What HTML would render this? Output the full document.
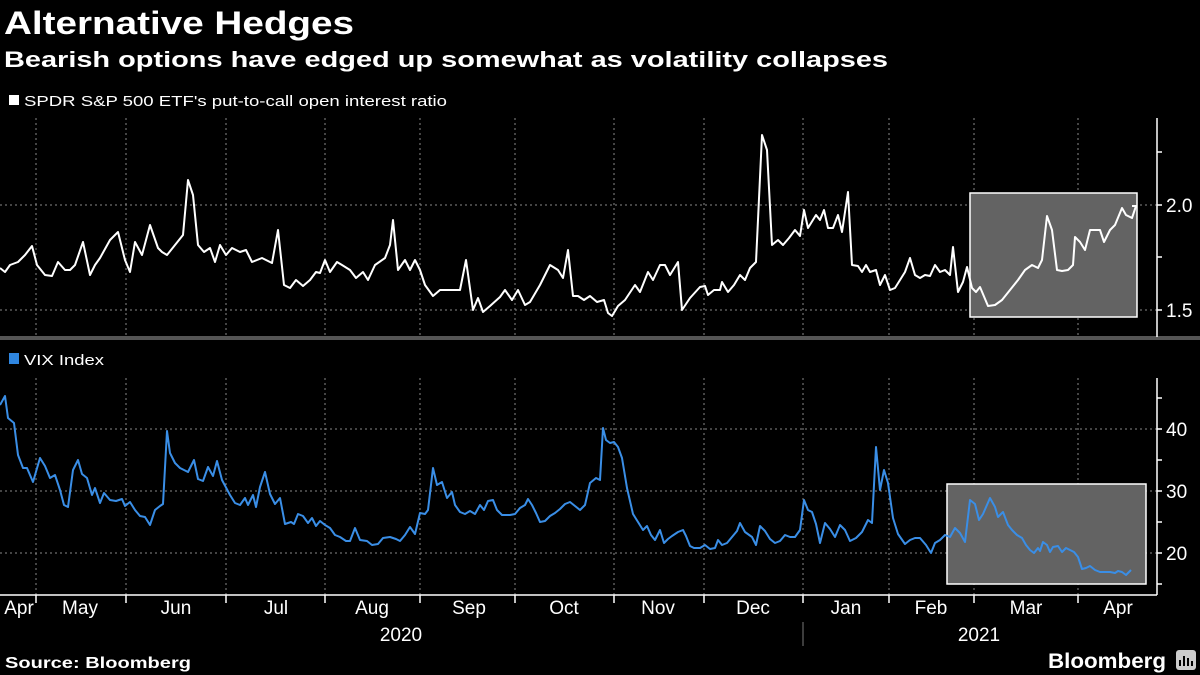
<!DOCTYPE html>
<html><head><meta charset="utf-8"><style>
html,body{margin:0;padding:0;background:#000;width:1200px;height:675px;overflow:hidden}
svg{display:block}
text{font-family:"Liberation Sans",sans-serif;fill:#fff}
</style></head><body>
<svg width="1200" height="675" viewBox="0 0 1200 675" xmlns="http://www.w3.org/2000/svg">
<text x="4" y="34" font-size="32" font-weight="bold" textLength="350" lengthAdjust="spacingAndGlyphs">Alternative Hedges</text>
<text x="4" y="67" font-size="22" font-weight="bold" textLength="884" lengthAdjust="spacingAndGlyphs">Bearish options have edged up somewhat as volatility collapses</text>
<rect x="9" y="95" width="10" height="10" fill="#fff"/>
<text x="24" y="106" font-size="15" textLength="423" lengthAdjust="spacingAndGlyphs">SPDR S&amp;P 500 ETF's put-to-call open interest ratio</text>
<rect x="9" y="353" width="10" height="11" fill="#2f86e0"/>
<text x="24" y="365" font-size="15" textLength="80" lengthAdjust="spacingAndGlyphs">VIX Index</text>
<g stroke="#888" stroke-width="1" stroke-dasharray="2,3" fill="none">
<path d="M36 118V337M126 118V337M226 118V337M325 118V337M420 118V337M515 118V337M614 118V337M704 118V337M803 118V337M889 118V337M974 118V337M1078 118V337"/>
<path d="M36 378V595M126 378V595M226 378V595M325 378V595M420 378V595M515 378V595M614 378V595M704 378V595M803 378V595M889 378V595M974 378V595M1078 378V595"/>
<path d="M0 205H1157M0 310H1157M0 429H1157M0 491H1157M0 553H1157"/>
</g>
<rect x="0" y="336" width="1200" height="4" fill="#555"/>
<rect x="970" y="193" width="167" height="124" fill="#636363" stroke="#fff" stroke-width="1.5"/>
<rect x="947" y="484" width="199" height="100" fill="#636363" stroke="#fff" stroke-width="1.5"/>
<g stroke="#fff" stroke-width="1.5" fill="none">
<path d="M1157 118V337M1157 378V595M0 595H1157"/>
<path d="M1157 152h5M1157 205h5M1157 257h5M1157 310h5M1157 398h5M1157 429h5M1157 460h5M1157 491h5M1157 522h5M1157 553h5M1157 584h5"/>
<path d="M36 595v8M126 595v8M226 595v8M325 595v8M420 595v8M515 595v8M614 595v8M704 595v8M803 595v8M889 595v8M974 595v8M1078 595v8"/>
</g>
<path d="M803 622V646" stroke="#777" stroke-width="1"/>
<g font-size="19">
<text x="1166" y="212">2.0</text><text x="1166" y="317">1.5</text>
<text x="1166" y="436">40</text><text x="1166" y="498">30</text><text x="1166" y="560">20</text>
</g>
<g font-size="19" text-anchor="middle">
<text x="19" y="614">Apr</text><text x="80" y="614">May</text><text x="176" y="614">Jun</text><text x="276" y="614">Jul</text><text x="372" y="614">Aug</text><text x="469" y="614">Sep</text><text x="564" y="614">Oct</text><text x="658" y="614">Nov</text><text x="753" y="614">Dec</text><text x="846" y="614">Jan</text><text x="931" y="614">Feb</text><text x="1026" y="614">Mar</text><text x="1118" y="614">Apr</text>
<text x="401" y="641">2020</text><text x="979" y="641">2021</text>
</g>
<text x="5" y="668" font-size="16" font-weight="bold" textLength="186" lengthAdjust="spacingAndGlyphs">Source: Bloomberg</text>
<text x="1048" y="668" font-size="21" font-weight="bold" textLength="118" lengthAdjust="spacingAndGlyphs">Bloomberg</text>
<rect x="1176" y="650" width="20" height="20" rx="3" fill="#ccc"/>
<path d="M1180 666V660M1184 666V656M1188 666V658M1192 666V661" stroke="#000" stroke-width="2"/>
<polyline fill="none" stroke="#fff" stroke-width="2" stroke-linejoin="round" points="0,268 5,272 10,265 18,262 25,255 32,246 37,265 45,275 52,276 58,262 65,270 70,270 75,265 83,242 90,275 95,265 100,258 110,240 118,232 125,260 130,272 135,242 142,255 150,225 158,248 162,252 167,255 175,245 183,235 188,180 193,195 198,245 204,252 210,248 215,262 220,245 226,255 232,248 240,252 246,250 252,262 262,258 272,263 278,230 284,285 290,288 296,280 303,286 310,280 316,272 320,273 325,260 330,272 337,262 342,265 350,270 356,278 363,272 368,280 375,265 385,258 390,245 393,220 398,270 405,260 410,270 415,260 420,270 425,285 433,296 440,290 450,290 460,290 466,260 473,310 478,298 483,312 490,306 500,297 505,290 512,300 518,290 525,305 530,302 540,285 550,265 558,270 563,278 568,250 573,296 578,296 584,300 590,296 597,302 604,300 608,313 612,316 618,306 625,300 635,285 640,292 648,272 653,280 660,265 665,265 670,275 678,262 682,310 690,298 700,287 705,286 708,295 714,290 720,290 722,282 728,292 734,285 740,275 745,280 750,268 756,262 762,135 767,150 772,245 778,240 783,245 789,238 795,230 800,236 804,210 808,228 816,215 820,220 824,210 828,228 833,228 838,215 842,232 848,192 852,265 858,266 862,272 866,265 870,272 876,270 880,285 885,275 890,290 895,288 900,280 905,272 910,258 915,275 920,278 925,275 930,276 935,265 940,272 945,270 950,275 953,247 958,292 963,282 967,267 972,288 976,292 980,287 988,306 995,305 1002,300 1010,290 1018,280 1025,270 1032,265 1038,268 1042,260 1047,216 1052,230 1057,270 1062,271 1068,270 1073,265 1075,237 1080,242 1085,250 1090,230 1096,230 1100,230 1104,242 1110,230 1115,225 1122,208 1126,215 1132,218 1136,206 1132,206"/>
<polyline fill="none" stroke="#3a8ee6" stroke-width="2" stroke-linejoin="round" points="0,405 5,396 8,418 14,423 18,455 23,468 27,468 33,482 40,458 45,466 50,478 55,475 60,490 64,505 68,507 73,470 78,460 82,474 87,478 92,495 95,488 100,503 104,493 110,500 116,501 122,499 125,506 130,502 135,510 140,516 145,517 150,525 155,510 160,506 163,504 167,431 170,453 175,463 180,468 188,472 194,460 198,479 203,481 208,467 213,476 217,461 222,480 230,495 235,503 240,505 245,498 248,505 253,495 256,507 260,487 263,478 265,472 270,494 275,504 280,498 285,524 291,522 294,524 298,514 303,516 308,523 312,518 316,526 320,521 325,525 330,528 335,535 340,537 346,541 350,541 355,528 360,540 367,541 372,545 378,544 383,538 390,537 396,539 400,541 405,535 410,527 415,534 420,513 425,514 428,510 433,468 437,485 442,482 447,498 452,492 455,505 460,512 465,514 470,511 475,514 480,505 484,510 488,501 493,500 497,510 502,515 510,515 515,514 520,508 525,505 528,499 532,505 536,513 540,522 545,521 550,516 555,513 560,509 565,504 570,502 575,506 580,510 585,505 590,483 596,478 600,480 603,428 606,440 610,443 614,442 618,447 622,458 627,488 633,514 638,522 643,530 647,526 651,535 655,540 660,530 664,543 668,539 672,536 675,534 678,532 683,530 686,536 690,546 694,548 700,548 705,545 710,549 715,548 718,540 722,545 727,543 732,537 737,531 740,523 745,532 752,537 756,545 760,526 765,531 770,539 775,543 780,541 785,535 790,537 795,537 800,530 804,500 808,510 812,512 816,524 820,543 825,523 830,529 835,537 840,525 845,530 850,541 856,538 862,532 868,520 872,523 876,447 880,490 884,470 888,483 893,518 898,534 905,544 910,540 915,538 920,538 926,545 931,553 935,543 940,540 945,535 950,537 955,528 960,533 965,542 970,500 975,504 979,520 983,514 990,498 995,507 998,517 1003,512 1008,525 1012,530 1017,535 1022,538 1026,545 1030,550 1034,553 1038,548 1040,551 1043,542 1047,545 1050,552 1053,547 1058,546 1062,552 1066,548 1070,550 1074,552 1078,557 1082,569 1086,568 1090,566 1095,570 1100,572 1106,572 1110,572 1115,573 1118,571 1122,572 1126,575 1131,570"/>
</svg>
</body></html>
